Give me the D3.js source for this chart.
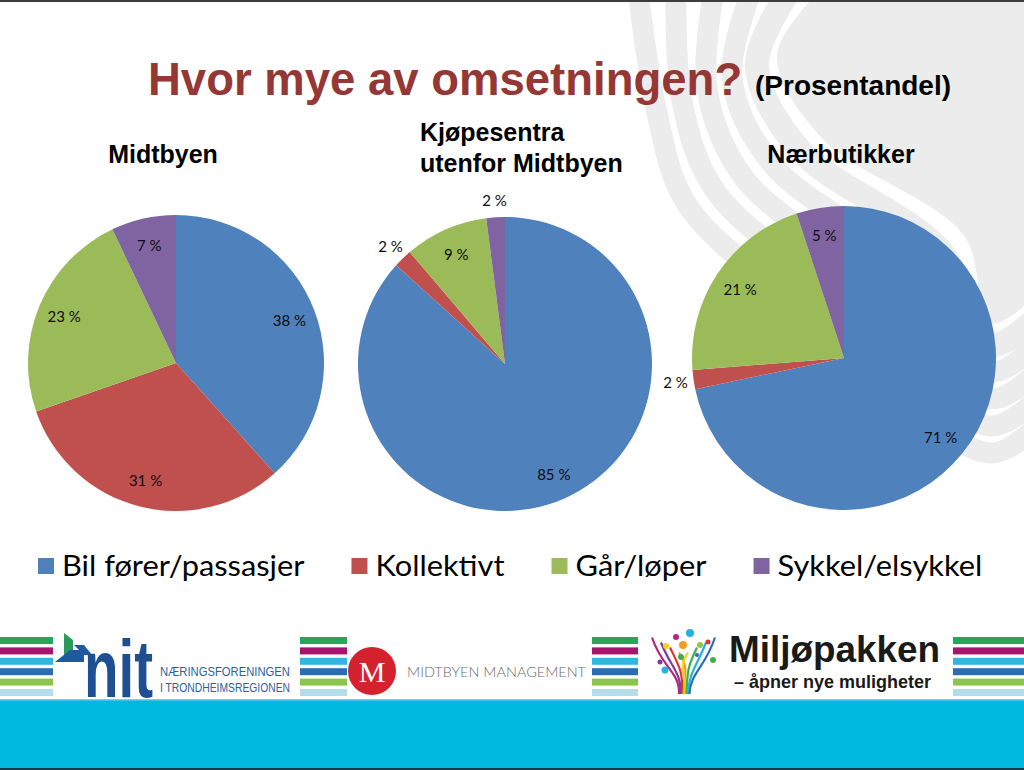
<!DOCTYPE html>
<html><head><meta charset="utf-8">
<script src="https://cdn.jsdelivr.net/npm/d3@7"></script>
<style>html,body{margin:0;padding:0;background:#fff;overflow:hidden} svg{display:block;}</style>
</head><body><svg id="c" width="1024" height="770"></svg>
<script>
// ---- data ----
const categories = ["Bil fører/passasjer", "Kollektivt", "Går/løper", "Sykkel/elsykkel"];
const categoryColors = ["#4f81bd", "#c0504d", "#9bbb59", "#8064a2"];
const pieTitles = [["Midtbyen"], ["Kjøpesentra", "utenfor Midtbyen"], ["Nærbutikker"]];
const midtbyenValues = [38, 31, 23, 7];
const kjopesentraValues = [85, 2, 9, 2];
const naerbutikkerValues = [71, 2, 21, 5];
const titleMain = "Hvor mye av omsetningen?";
const titleSub = "(Prosentandel)";

const seriesList = [midtbyenValues, kjopesentraValues, naerbutikkerValues];

const svg = d3.select("#c");

// ---- background decoration (swoosh bands) ----
const deco = svg.append("g");
const bandLine = d3.line().curve(d3.curveCatmullRom.alpha(0.5));
const bandPts = i => [
  [790 - 38 * i, -10],
  [757 - 25 * i, 65 + 12 * i],
  [800 - 28 * i, 150 + 14 * i],
  [940 - 30 * i, 250 + 18 * i],
  [990, 345 + 27 * i],
  [1045, 310 + 27 * i]
];
deco.append("path")
  .attr("d", bandLine(bandPts(-0.8)) + " L1100,-10 Z")
  .attr("fill", "#ececec");
d3.range(0, 5).forEach(i => {
  deco.append("path").attr("d", bandLine(bandPts(i)))
    .attr("fill", "none").attr("stroke", "#ececec").attr("stroke-width", i === 0 ? 24 : 21);
});
svg.append("rect").attr("x", 0).attr("y", 0).attr("width", 1024).attr("height", 2).attr("fill", "#3c3c3c");

// ---- title ----
const title = svg.append("text").attr("y", 95).attr("font-family", "Liberation Sans, Arial, sans-serif").attr("font-weight", "bold");
title.append("tspan").attr("x", 148).attr("font-size", 45.5).attr("fill", "#953735").text(titleMain);
title.append("tspan").attr("x", 755).attr("font-size", 28).attr("fill", "#000").text(titleSub);

// ---- pies ----
const pieLayout = [
  {cx: 176, cy: 363, r: 148, tx: 163, ty: 163, anchor: "middle"},
  {cx: 505, cy: 364, r: 147, tx: 420, ty: 141, anchor: "start"},
  {cx: 844, cy: 358, r: 152, tx: 841, ty: 163, anchor: "middle"}
];
const pie = d3.pie().sort(null).value(d => d);

seriesList.forEach((vals, k) => {
  const L = pieLayout[k];
  const g = svg.append("g").attr("transform", `translate(${L.cx},${L.cy})`);
  const arc = d3.arc().innerRadius(0).outerRadius(L.r);
  const inLabel = d3.arc().innerRadius(L.r * 0.82).outerRadius(L.r * 0.82);
  const outLabel = d3.arc().innerRadius(L.r * 1.12).outerRadius(L.r * 1.12);
  const arcs = pie(vals);
  g.selectAll("path").data(arcs).join("path")
    .attr("d", arc).attr("fill", (d, i) => categoryColors[i]);
  g.selectAll("text").data(arcs).join("text")
    .attr("transform", d => `translate(${(d.data < 3 ? outLabel : inLabel).centroid(d)})`)
    .attr("text-anchor", "middle").attr("dominant-baseline", "central")
    .attr("font-family", "Lato, Open Sans, sans-serif").attr("font-size", 15)
    .attr("fill", "#0d0d0d")
    .text(d => d.data + " %");
  const t = svg.append("text").attr("font-family", "Liberation Sans, Arial, sans-serif").attr("font-weight", "bold")
    .attr("font-size", 25).attr("text-anchor", L.anchor).attr("fill", "#000");
  pieTitles[k].forEach((line, j) => {
    t.append("tspan").attr("x", L.tx).attr("y", L.ty + j * 31).text(line);
  });
});

// ---- legend ----
const legend = svg.append("g");
let lx = 38;
categories.forEach((c, i) => {
  legend.append("rect").attr("x", lx).attr("y", 558).attr("width", 16).attr("height", 16).attr("fill", categoryColors[i]);
  const tx = legend.append("text").attr("x", lx + 24).attr("y", 576)
    .attr("font-family", "Lato, Open Sans, sans-serif").attr("font-size", 28).attr("fill", "#000").text(c);
  const w = tx.node().getComputedTextLength() * 1.1;
  tx.attr("textLength", w).attr("lengthAdjust", "spacingAndGlyphs");
  lx = lx + 24 + w + 47;
});

// ---- footer ----
const stripeColors = ["#27a55a", "#a8136d", "#31b6e2", "#2a6db5", "#8cc54c", "#b5dde9"];
const stripeGroups = [[0, 53], [300, 347], [592, 638], [953, 1024]];
stripeGroups.forEach(([x0, x1]) => {
  stripeColors.forEach((col, i) => {
    svg.append("rect").attr("x", x0).attr("y", 637 + i * 10.4).attr("width", x1 - x0).attr("height", 7).attr("fill", col);
  });
});
// NIT logo
svg.append("path").attr("d", "M64,633 L73,640 L73,655 L64,655Z").attr("fill", "#2a9a5a");
svg.append("path").attr("d", "M55,662 L70,650 L84,650 L84,662Z").attr("fill", "#1f5aa0");
svg.append("path").attr("d", "M74,645 L84,645 L92,655 L84,655Z").attr("fill", "#1f5aa0");
svg.append("g").attr("transform", "translate(84,697) scale(0.69,1)")
  .append("text").attr("x", 0).attr("y", 0).attr("font-family", "Liberation Sans, Arial, sans-serif").attr("font-weight", "bold")
  .attr("font-size", 82).attr("fill", "#1f4f93").text("nit");
svg.append("text").attr("x", 160).attr("y", 676).attr("font-family", "Liberation Sans Narrow, Liberation Sans, sans-serif")
  .attr("font-size", 13).attr("fill", "#2a5fa5").attr("textLength", 130).attr("lengthAdjust", "spacingAndGlyphs").text("NÆRINGSFORENINGEN");
svg.append("text").attr("x", 160).attr("y", 692).attr("font-family", "Liberation Sans Narrow, Liberation Sans, sans-serif")
  .attr("font-size", 13).attr("fill", "#2a5fa5").attr("textLength", 130).attr("lengthAdjust", "spacingAndGlyphs").text("I TRONDHEIMSREGIONEN");
// Midtbyen management
svg.append("circle").attr("cx", 372).attr("cy", 671).attr("r", 24).attr("fill", "#d3222e");
svg.append("text").attr("x", 372).attr("y", 682).attr("text-anchor", "middle").attr("font-family", "Liberation Serif, serif")
  .attr("font-size", 30).attr("fill", "#fff").text("M");
svg.append("text").attr("x", 407).attr("y", 677).attr("font-family", "Lato, sans-serif").attr("font-weight", 300)
  .attr("font-size", 14).attr("fill", "#6a6a6a").attr("textLength", 179).attr("lengthAdjust", "spacingAndGlyphs").text("MIDTBYEN  MANAGEMENT");
// Miljøpakken tree
const tree = svg.append("g");
const treeCols = ["#b7237d", "#7a3f98", "#e2322a", "#f29d1f", "#f3d11b", "#43ad4b", "#25b2e2", "#2c6cb4"];
treeCols.forEach((col, i) => {
  const ex = 652 + i * 9, ey = 655 - Math.abs(i - 3.5) * 5;
  tree.append("path").attr("d", `M${679 + i * 1.5},694 C${680 + i * 1.5},672 ${ex + (i < 4 ? 10 : -10)},668 ${ex},${ey}`)
    .attr("fill", "none").attr("stroke", col).attr("stroke-width", 2.2);
});
const dots = [[690, 633, 4, "#25b2e2"], [676, 637, 3, "#b7237d"], [683, 645, 4, "#f29d1f"], [700, 645, 3, "#8cc54c"], [666, 646, 3, "#f3d11b"],
  [708, 642, 2.5, "#e2322a"], [681, 657, 3, "#43ad4b"], [660, 662, 2.5, "#7a3f98"], [713, 660, 3, "#43ad4b"], [665, 670, 3.5, "#25b2e2"], [697, 655, 2, "#2c6cb4"]];
dots.forEach(([x, y, r, c]) => tree.append("circle").attr("cx", x).attr("cy", y).attr("r", r).attr("fill", c));
svg.append("text").attr("x", 729).attr("y", 662).attr("font-family", "Liberation Sans, Arial, sans-serif").attr("font-weight", "bold")
  .attr("font-size", 36).attr("fill", "#1a1a1a").attr("textLength", 211).attr("lengthAdjust", "spacingAndGlyphs").text("Miljøpakken");
svg.append("text").attr("x", 734).attr("y", 688).attr("font-family", "Liberation Sans, Arial, sans-serif").attr("font-weight", "bold")
  .attr("font-size", 19).attr("fill", "#1a1a1a").attr("textLength", 197).attr("lengthAdjust", "spacingAndGlyphs").text("– åpner nye muligheter");
// cyan band
svg.append("rect").attr("x", 0).attr("y", 699).attr("width", 1024).attr("height", 69).attr("fill", "#00b9e1");
svg.append("rect").attr("x", 0).attr("y", 699).attr("width", 1024).attr("height", 1.5).attr("fill", "#6fd3ee");
svg.append("rect").attr("x", 0).attr("y", 768).attr("width", 1024).attr("height", 2).attr("fill", "#183a48");
</script>
</body></html>
